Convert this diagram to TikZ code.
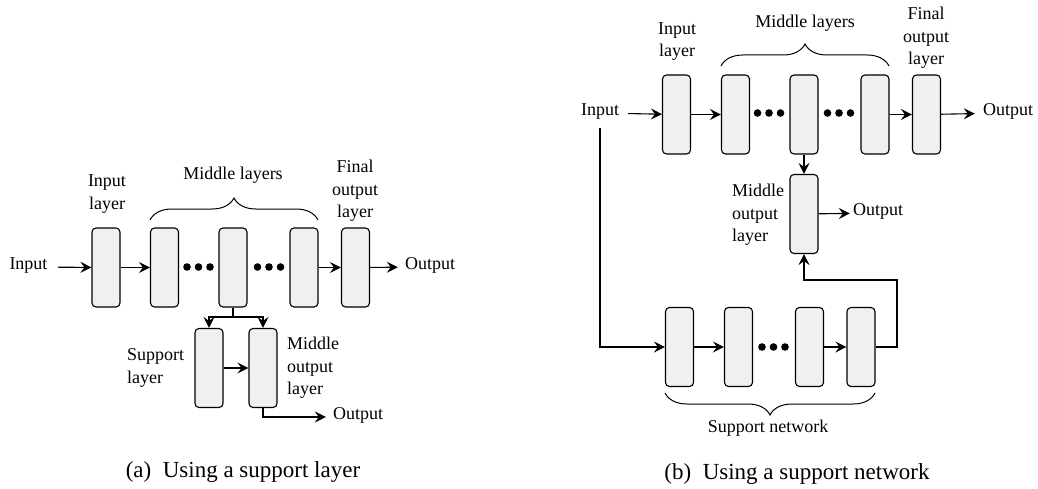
\documentclass[tikz,border=0pt]{standalone}
\usepackage{fontspec}
\newfontfamily\labelfont{Liberation Serif}
\usetikzlibrary{arrows.meta,decorations.pathreplacing}
\tikzset{
  pics/dotrow/.style={code={\foreach \dx in {-11.5,0,11.5} \fill (\dx,0) circle (3.8pt);}}
}
\begin{document}
\begin{tikzpicture}[x=1pt,y=-1pt,
  layer/.style={draw, line width=1.1pt, rounded corners=4pt, fill=black!6,
                minimum width=28pt, minimum height=79pt, inner sep=0pt},
  lbl/.style={font=\labelfont\fontsize{18}{22.5}\selectfont, inner sep=0pt},
  io/.style={lbl, text height=0.46em, text depth=0pt},
  arr/.style={-{Stealth[length=11pt,width=11pt,inset=4pt]}, line width=1.1pt},
  wire/.style={line width=1.1pt},
  brc/.style={decorate, decoration={brace, amplitude=22pt}, line width=1pt},
  subcap/.style={font=\labelfont\fontsize{23}{28}\selectfont, inner sep=0pt},
]
\useasboundingbox (0,0) rectangle (1038,489);

% ---------- (a) support layer ----------
\node[layer] (Lil) at (106,267.5) {};
\node[layer] (Lm1) at (164.5,267.5) {};
\node[layer] (Lm2) at (233,267.5) {};
\node[layer] (Lm3) at (304,267.5) {};
\node[layer] (Lfo) at (355.5,267.5) {};
\node[layer] (Lsl) at (209,368) {};
\node[layer] (Lmo) at (263,368) {};

\node[io] (Lin) at (28.5,267) {Input};
\node[io] (Lout) at (430,267) {Output};
\node[io] (Lout2) at (358,417) {Output};

\draw[arr, shorten <=10pt] (Lin) -- (Lil);
\draw[arr] (Lil) -- (Lm1);
\draw[arr] (Lm3) -- (Lfo);
\draw[arr, shorten >=7pt] (Lfo) -- (Lout);
\coordinate (Lj) at (233,317);
\draw[wire] (Lm2) -- (Lj);
\draw[arr] (Lj) -| (Lsl);
\draw[arr] (Lj) -| (Lmo);
\draw[arr] (Lsl) -- (Lmo);
\draw[arr, shorten >=7pt] (Lmo) |- (Lout2);

\pic at (198.5,267) {dotrow};
\pic at (269,267) {dotrow};

\node[lbl, align=center] (Lilt) at (107,194) {Input\\layer};
\node[lbl] (Lmlt) at (233,175) {Middle layers};
\node[lbl, align=center] (Lfot) at (355,191) {Final\\output\\layer};
\node[lbl, align=left, anchor=west] (Lslt) at (127,368) {Support\\layer};
\node[lbl, align=left, anchor=west] (Lmot) at (287,368) {Middle\\output\\layer};
\draw[brc] (150,220) -- (318,220);

\node[subcap] (capa) at (243,472) {(a)\enskip Using a support layer};

% ---------- (b) support network ----------
\node[layer] (Ril) at (676.5,114.5) {};
\node[layer] (Rm1) at (735.5,114.5) {};
\node[layer] (Rm2) at (804,114.5) {};
\node[layer] (Rm3) at (875,114.5) {};
\node[layer] (Rfo) at (926.5,114.5) {};
\node[layer] (Rmo) at (804,214) {};
\node[layer] (Rs1) at (679.5,347) {};
\node[layer] (Rs2) at (738.5,347) {};
\node[layer] (Rs3) at (809.5,347) {};
\node[layer] (Rs4) at (861,347) {};

\node[io] (Rin) at (600,113) {Input};
\node[io] (Rout) at (1008,113) {Output};
\node[io] (Rout2) at (878,213) {Output};

\draw[arr, shorten <=9pt] (Rin) -- (Ril);
\draw[arr] (Ril) -- (Rm1);
\draw[arr] (Rm3) -- (Rfo);
\draw[arr, shorten >=8pt] (Rfo) -- (Rout);
\draw[arr] (Rm2) -- (Rmo);
\draw[arr, shorten >=3pt] (Rmo) -- (Rout2);
\draw[arr, shorten <=13pt] (Rin) |- (Rs1);
\draw[arr] (Rs1) -- (Rs2);
\draw[arr] (Rs3) -- (Rs4);
\coordinate (Rfb) at (897,280);
\draw[arr] (Rs4) -| (Rfb) -| (Rmo);

\pic at (769,113) {dotrow};
\pic at (839,113) {dotrow};
\pic at (773.5,347) {dotrow};

\node[lbl, align=center] (Rilt) at (677,41.5) {Input\\layer};
\node[lbl] (Rmlt) at (805,23) {Middle layers};
\node[lbl, align=center] (Rfot) at (926,38) {Final\\output\\layer};
\node[lbl, align=left, anchor=west] (Rmot) at (732,215) {Middle\\output\\layer};
\node[lbl] (Rsnt) at (768,428) {Support network};
\draw[brc] (721,66) -- (889,66);
\draw[brc] (875,393) -- (665,393);

\node[subcap] (capb) at (797,474) {(b)\enskip Using a support network};
\end{tikzpicture}
\end{document}
